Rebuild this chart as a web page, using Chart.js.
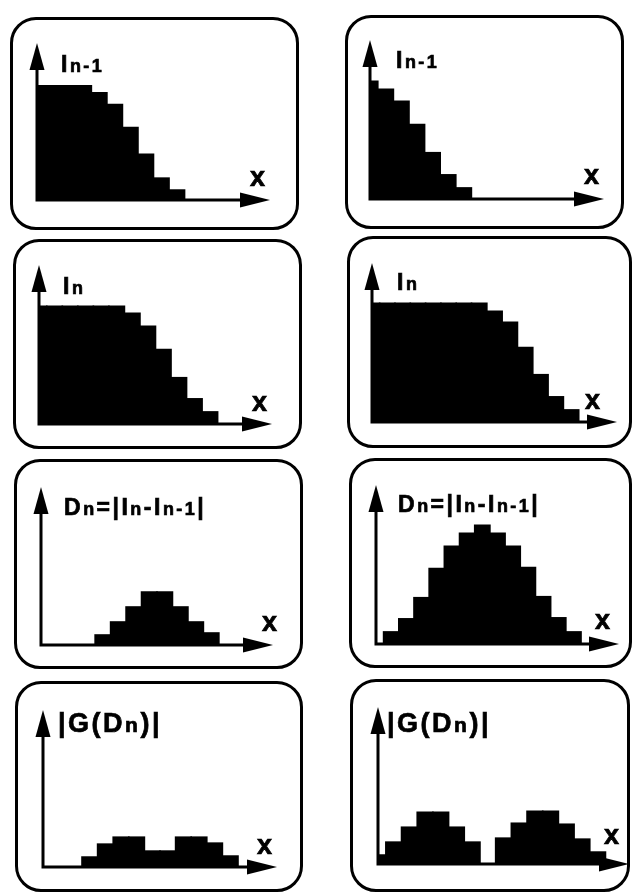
<!DOCTYPE html>
<html>
<head>
<meta charset="utf-8">
<script src="https://cdn.jsdelivr.net/npm/chart.js@4"></script>
<style>
  html, body { margin: 0; padding: 0; background: #fff; }
  body { width: 634px; height: 893px; position: relative; overflow: hidden; }
  .box {
    position: absolute;
    box-sizing: border-box;
    border: 3px solid #000;
    border-radius: 26px;
  }
  canvas { position: absolute; }
  .lbl {
    position: absolute;
    font-family: "Liberation Sans", Arial, sans-serif;
    font-weight: bold;
    line-height: 1;
    letter-spacing: 2.5px;
    color: #000;
    -webkit-text-stroke: 0.7px #000;
    white-space: nowrap;
  }
  .lbl .s { font-size: 0.78em; }
</style>
</head>
<body>
<script>
// ========== DATA (bar heights per bin, same units as the y axis) ==========
const BIN_LABELS = ['0','1','2','3','4','5','6','7','8','9','10','11','12','13','14','15','16'];
const Y_MAX = 158;

// left column: slow movement
const IN1_LEFT  = [115, 115, 115, 115, 108, 96, 73, 46, 22, 10];
const IN_LEFT   = [117, 117, 117, 117, 117, 117, 110, 97, 74, 46, 25, 12];
const DN_LEFT   = [0, 0, 0, 0, 10, 23, 38, 53, 53, 38, 23, 12];
const GDN_LEFT  = [0, 0, 0, 10, 23, 30, 30, 16, 16, 30, 30, 24, 11];

// right column: fast movement
const IN1_RIGHT = [117, 109, 97, 74, 46, 24, 11];
const IN_RIGHT  = [118, 118, 118, 118, 118, 118, 118, 118, 110, 99, 74, 47, 25, 12];
const DN_RIGHT  = [0, 12, 25, 46, 75, 97, 110, 118, 110, 97, 76, 47, 26, 12];
const GDN_RIGHT = [9, 22, 37, 52, 52, 37, 22, 0, 26, 41, 53, 53, 40, 25, 12];

// label texts: [main, subscript] pieces
const LBL_IN1 = [['I', 'n-1']];
const LBL_IN  = [['I', 'n']];
const LBL_DN  = [['D', 'n'], ['=|I', 'n'], ['-I', 'n-1'], ['|', '']];
const LBL_GDN = [['|G(D', 'n'], [')|', '']];

// ========== PANEL LAYOUT ==========
// box: [left, top, right, bottom], origin: axis crossing, tip: [x arrow tip, y arrow tip]
const panels = [
  { data: IN1_LEFT,  bins: 16, box: [10, 17, 299, 230],  origin: [37, 200],  tip: [270, 43],  label: LBL_IN1, lpos: [61, 72],   size: 23, xpos: [250, 187] },
  { data: IN1_RIGHT, bins: 16, box: [345, 15, 624, 229], origin: [370, 199], tip: [604, 40],  label: LBL_IN1, lpos: [396, 68],  size: 23, xpos: [584, 185] },
  { data: IN_LEFT,   bins: 16, box: [13, 239, 302, 449], origin: [39, 424],  tip: [272, 265], label: LBL_IN,  lpos: [63, 294],  size: 23, xpos: [252, 412] },
  { data: IN_RIGHT,  bins: 17, box: [347, 236, 632, 448],origin: [372, 422], tip: [617, 263], label: LBL_IN,  lpos: [397, 290], size: 23, xpos: [585, 410] },
  { data: DN_LEFT,   bins: 16, box: [14, 459, 303, 669], origin: [41, 645],  tip: [273, 487], label: LBL_DN,  lpos: [64, 515],  size: 23, xpos: [262, 632] },
  { data: DN_RIGHT,  bins: 17, box: [349, 458, 632, 668],origin: [376, 644], tip: [619, 485], label: LBL_DN,  lpos: [398, 512], size: 23, xpos: [595, 630] },
  { data: GDN_LEFT,  bins: 16, box: [15, 681, 303, 892], origin: [43, 867],  tip: [277, 710], label: LBL_GDN, lpos: [58, 733],  size: 27, xpos: [257, 855] },
  { data: GDN_RIGHT, bins: 17, box: [350, 679, 630, 892],origin: [378, 864], tip: [629, 707], label: LBL_GDN, lpos: [387, 733], size: 27, xpos: [604, 845] }
];

// ========== ARROW AXES PLUGIN ==========
const arrowAxes = {
  id: 'arrowAxes',
  afterDatasetsDraw(chart) {
    const { ctx, chartArea } = chart;
    const x0 = chartArea.left, y0 = chartArea.bottom;
    const xt = chartArea.right, yt = chartArea.top;
    ctx.save();
    ctx.strokeStyle = '#000';
    ctx.fillStyle = '#000';
    ctx.lineWidth = 3;
    ctx.beginPath();
    ctx.moveTo(x0, y0 + 1.5);
    ctx.lineTo(x0, yt + 20);
    ctx.moveTo(x0 - 1.5, y0);
    ctx.lineTo(xt - 20, y0);
    ctx.stroke();
    // y arrowhead
    ctx.beginPath();
    ctx.moveTo(x0, yt);
    ctx.lineTo(x0 - 7.5, yt + 27);
    ctx.lineTo(x0 + 7.5, yt + 27);
    ctx.closePath();
    ctx.fill();
    // x arrowhead
    ctx.beginPath();
    ctx.moveTo(xt, y0);
    ctx.lineTo(xt - 30, y0 - 7.5);
    ctx.lineTo(xt - 30, y0 + 7.5);
    ctx.closePath();
    ctx.fill();
    ctx.restore();
  }
};

function addLabel(parts, left, baseline, size) {
  const div = document.createElement('div');
  div.className = 'lbl';
  div.style.fontSize = size + 'px';
  div.style.left = left + 'px';
  div.style.top = (baseline - 0.8465 * size) + 'px';
  parts.forEach(([main, sub]) => {
    div.appendChild(document.createTextNode(main));
    if (sub) {
      const s = document.createElement('span');
      s.className = 's';
      s.textContent = sub;
      div.appendChild(s);
    }
  });
  document.body.appendChild(div);
}

// ========== BUILD PANELS ==========
panels.forEach(p => {
  const [l, t, r, b] = p.box;
  const box = document.createElement('div');
  box.className = 'box';
  box.style.left = l + 'px';
  box.style.top = t + 'px';
  box.style.width = (r - l) + 'px';
  box.style.height = (b - t) + 'px';
  document.body.appendChild(box);

  const canvas = document.createElement('canvas');
  canvas.width = r - l;
  canvas.height = b - t;
  canvas.style.left = l + 'px';
  canvas.style.top = t + 'px';
  document.body.appendChild(canvas);

  new Chart(canvas, {
    type: 'bar',
    data: {
      labels: BIN_LABELS.slice(0, p.bins),
      datasets: [{
        data: p.data,
        backgroundColor: '#000',
        borderWidth: 0,
        inflateAmount: 0.8,
        barPercentage: 1,
        categoryPercentage: 1
      }]
    },
    options: {
      responsive: false,
      animation: false,
      events: [],
      layout: {
        padding: {
          left: p.origin[0] - l,
          right: r - p.tip[0],
          top: p.tip[1] - t,
          bottom: b - p.origin[1]
        }
      },
      plugins: { legend: { display: false }, tooltip: { enabled: false }, title: { display: false } },
      scales: {
        x: { display: false, offset: false, grid: { offset: false } },
        y: { display: false, min: 0, max: Y_MAX }
      }
    },
    plugins: [arrowAxes]
  });

  addLabel(p.label, p.lpos[0], p.lpos[1], p.size);
  addLabel([['x', '']], p.xpos[0], p.xpos[1], 27);
});
</script>
</body>
</html>
